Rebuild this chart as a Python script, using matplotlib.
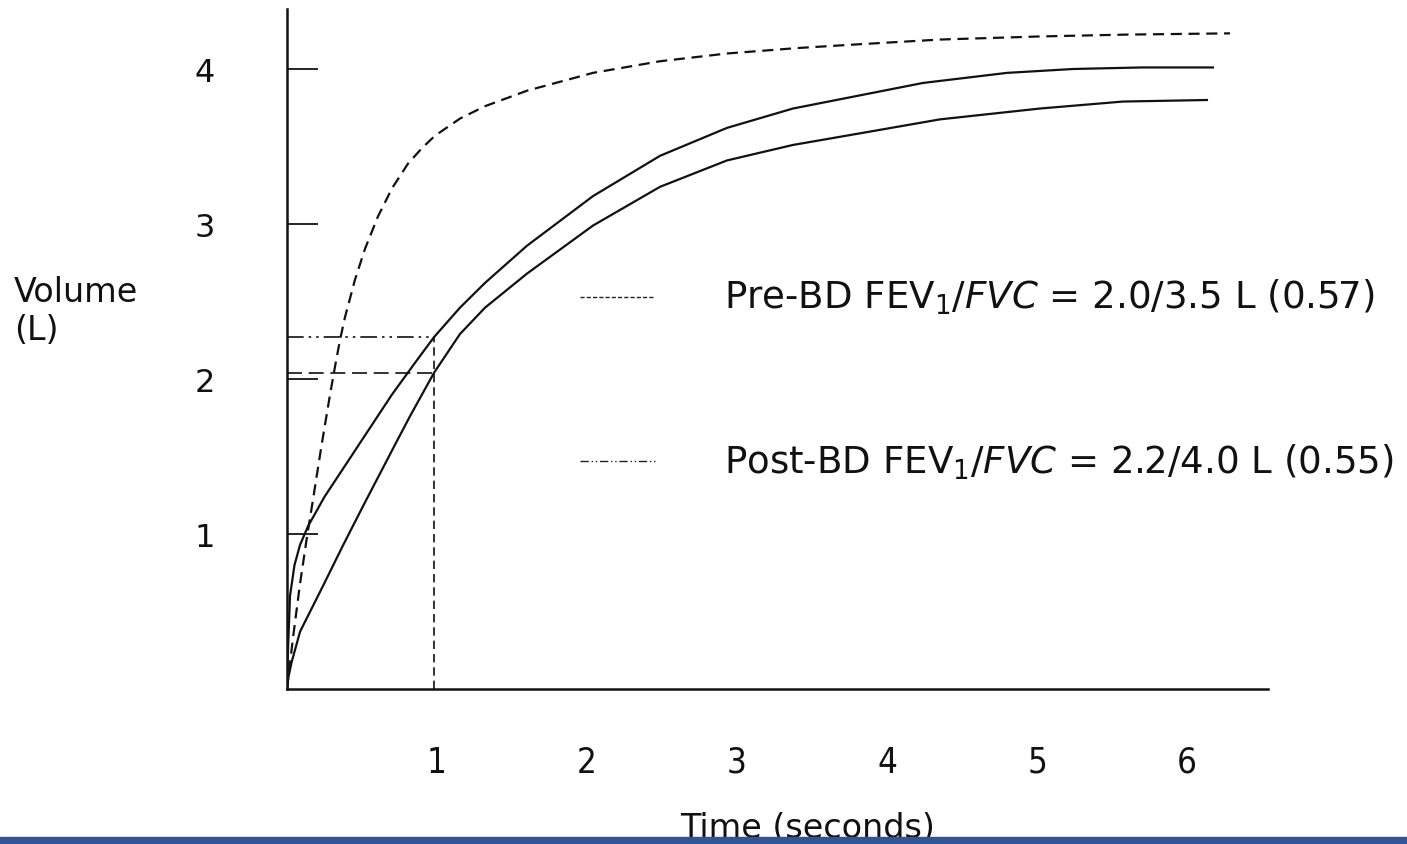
import matplotlib
matplotlib.use('Agg')
import matplotlib.pyplot as plt
import matplotlib.patches as mpatches

plt.rcParams['mathtext.fontset'] = 'dejavusans'

# time (s) and volume (L)
post_t = [0, 0.007, 0.02, 0.05, 0.087, 0.14, 0.25, 0.4, 0.55, 0.7, 0.85,
          0.98, 1.153, 1.32, 1.6, 2.04, 2.487, 2.933, 3.373, 3.82, 4.24,
          4.8, 5.24, 5.7, 6.173]
post_v = [0, 0.26, 0.6, 0.8, 0.93, 1.05, 1.24, 1.46, 1.68, 1.9, 2.1,
          2.27, 2.46, 2.62, 2.86, 3.18, 3.44, 3.62, 3.745, 3.83, 3.91,
          3.975, 4.0, 4.01, 4.01]

pre_t = [0, 0.007, 0.03, 0.087, 0.24, 0.37, 0.507, 0.62, 0.733, 0.82, 0.9,
         0.98, 1.153, 1.32, 1.6, 2.04, 2.487, 2.933, 3.373, 3.82, 4.353,
         5.02, 5.573, 6.133]
pre_v = [0, 0.065, 0.17, 0.37, 0.665, 0.92, 1.18, 1.39, 1.6, 1.76, 1.9,
         2.04, 2.29, 2.46, 2.68, 2.99, 3.24, 3.41, 3.51, 3.585, 3.675,
         3.745, 3.79, 3.8]

norm_t = [0, 0.04, 0.087, 0.133, 0.173, 0.23, 0.287, 0.32, 0.353, 0.387,
          0.453, 0.52, 0.607, 0.7, 0.807, 0.9, 0.987, 1.153, 1.32, 1.6,
          2.04, 2.487, 2.933, 3.4, 3.82, 4.353, 5.02, 5.6, 6.287]
norm_v = [0, 0.33, 0.68, 0.98, 1.22, 1.57, 1.9, 2.08, 2.25, 2.4,
          2.64, 2.84, 3.05, 3.23, 3.39, 3.49, 3.57, 3.68, 3.76, 3.86,
          3.975, 4.05, 4.1, 4.135, 4.16, 4.19, 4.21, 4.222, 4.23]

fev1_time = 0.98
fev1_pre = 2.04
fev1_post = 2.27

x_ticks = [1, 2, 3, 4, 5, 6]
y_ticks = [1, 2, 3, 4]

legend_pre = r'Pre-BD FEV$_1$/$\mathit{FVC}$ = 2.0/3.5 L (0.57)'
legend_post = r'Post-BD FEV$_1$/$\mathit{FVC}$ = 2.2/4.0 L (0.55)'

W, H = 1407, 845
fig = plt.figure(figsize=(W / 100, H / 100), dpi=100)
fig.patch.set_facecolor('white')

# axes placed so the origin sits where the drawn one does
x0, y0, x1, y1 = 287, 690, 1268, 10
ax = fig.add_axes([x0 / W, (H - y0) / H, (x1 - x0) / W, (y0 - y1) / H])
ax.set_xlim(0, (x1 - x0) / 150)
ax.set_ylim(0, (y0 - y1) / 155)

ink = '#111111'
ax.plot(post_t, post_v, color=ink, lw=1.6, solid_joinstyle='round')
ax.plot(pre_t, pre_v, color=ink, lw=1.6, solid_joinstyle='round')
ax.plot(norm_t, norm_v, color=ink, lw=1.6, linestyle=(0, (5, 3)))

# FEV1 markers
ax.plot([0, fev1_time], [fev1_post, fev1_post], color=ink, lw=1.2,
        linestyle=(0, (10, 3, 1.5, 3, 1.5, 3)))
ax.plot([0, fev1_time], [fev1_pre, fev1_pre], color=ink, lw=1.2,
        linestyle=(0, (9, 4)))
ax.plot([fev1_time, fev1_time], [0, fev1_post], color=ink, lw=1.2,
        linestyle=(0, (5, 3)))

ax.spines['top'].set_visible(False)
ax.spines['right'].set_visible(False)
for side in ['left', 'bottom']:
    ax.spines[side].set_linewidth(1.8)
    ax.spines[side].set_color(ink)

ax.set_xticks(x_ticks)
ax.set_xticklabels([str(v) for v in x_ticks], fontstretch='condensed')
ax.tick_params(axis='x', length=0, pad=40, labelsize=25, labelcolor=ink)
ax.set_yticks(y_ticks)
ax.set_yticklabels([str(v) for v in y_ticks])
ax.tick_params(axis='y', direction='in', length=22, width=1.2, pad=52,
               labelsize=23, labelcolor=ink)

# legend drawn by hand, as in the figure
ax.plot([1.95, 2.45], [2.53, 2.53], color='#222222', lw=1.0,
        linestyle=(0, (3, 1.5)))
ax.plot([1.95, 2.45], [1.47, 1.47], color='#222222', lw=1.0,
        linestyle=(0, (6, 2, 1, 2, 1, 2)))
ax.text(2.91, 2.53, legend_pre, fontsize=26.7, va='center', ha='left',
        color=ink)
ax.text(2.91, 1.47, legend_post, fontsize=26.7, va='center', ha='left',
        color=ink)

fig.text(14 / W, 1 - 293 / H, 'Volume', fontsize=24, va='center', ha='left',
         color=ink)
fig.text(14 / W, 1 - 330 / H, '(L)', fontsize=24, va='center', ha='left',
         color=ink)
fig.text(808 / W, 1 - 829 / H, 'Time (seconds)', fontsize=24, va='center',
         ha='center', color=ink)

# blue strip at the bottom
fig.patches.append(mpatches.Rectangle((0, 0), 1, 7 / H, transform=fig.transFigure,
                                      color='#2F5597', zorder=10))

fig.savefig('out.png', dpi=100, facecolor='white')
